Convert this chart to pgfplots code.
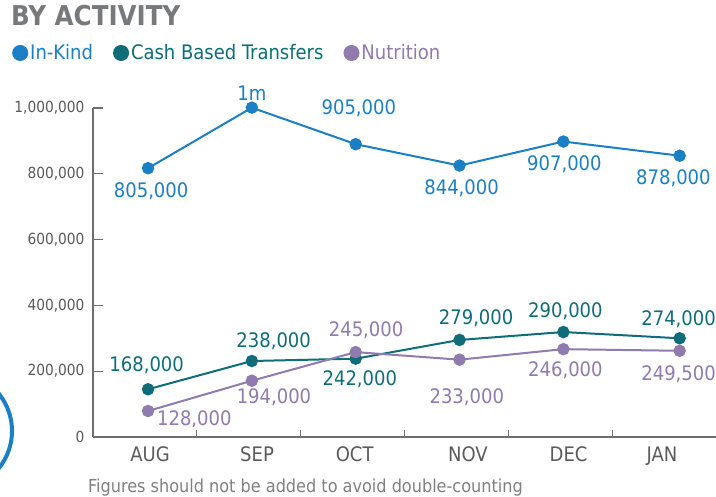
\documentclass[border=0pt]{standalone}
\usepackage{pgfplots}
\usepackage{pgfplotstable}
\pgfplotsset{compat=1.18}
\usepackage{fontspec}
\setmainfont{DejaVu Sans Condensed}
\definecolor{inkind}{HTML}{1B7FC5}
\definecolor{cbt}{HTML}{0E6D79}
\definecolor{nutri}{HTML}{8F7BAD}
\definecolor{titlegray}{HTML}{77797B}
\definecolor{tickgray}{HTML}{5A5A5A}
\definecolor{axisgray}{HTML}{6E6E6E}
\definecolor{notegray}{HTML}{808080}
\newcommand\labfont{\fontsize{20}{24}\selectfont}

\pgfplotstableread{
x y
0.03 817000
1.03 1001000
2.03 890000
3.03 825000
4.03 898000
5.15 855000
}\inkindtab
\pgfplotstableread{
x y
0.03 145000
1.03 231000
2.03 238000
3.03 295000
4.03 319000
5.15 300000
}\cbttab
\pgfplotstableread{
x y
0.03 79000
1.03 171000
2.03 258000
3.03 235000
4.03 267000
5.15 262000
}\nutritab
\pgfplotstableread{
x y label
0.06 745600 805,000
1.03 1045600 1m
2.06 997900 905,000
3.05 756800 844,000
4.04 827700 907,000
5.09 785100 878,000
}\inkindlab
\pgfplotstableread{
x y label
0.017 216700 168,000
1.24 291800 238,000
2.07 176300 242,000
3.19 359600 279,000
4.05 382000 290,000
5.14 358700 274,000
}\cbtlab
\pgfplotstableread{
x y label
0.476 53800 128,000
1.243 120700 194,000
2.13 323000 245,000
3.10 119500 233,000
4.05 202700 246,000
5.14 191500 249,500
}\nutrilab

\begin{document}
\begin{tikzpicture}
\useasboundingbox (0pt,0pt) rectangle (716pt,497pt);
\begin{axis}[
  at={(93pt,60pt)}, anchor=south west,
  scale only axis, width=623pt, height=329pt,
  xmin=-0.5, xmax=5.5, ymin=0, ymax=1000000,
  clip=false,
  axis lines*=left,
  axis line style={axisgray, line width=1.3pt},
  tick align=inside,
  major tick length=10pt, minor tick length=7pt,
  tick style={axisgray, line width=1.2pt},
  xtick={0.05,1.08,2.02,3.11,4.08,4.98},
  xticklabels={AUG,SEP,OCT,NOV,DEC,JAN},
  major x tick style={draw=none},
  minor xtick={0.5,1.5,2.5,3.5,4.5},
  ytick={0,200000,400000,600000,800000,1000000},
  scaled y ticks=false,
  /pgf/number format/assume math mode=true,
  yticklabel style={/pgf/number format/fixed, /pgf/number format/1000 sep={,},
     font=\fontsize{15.3}{18}\selectfont, text=tickgray, xshift=-5pt},
  xticklabel style={font=\fontsize{20}{23}\selectfont, text=tickgray, yshift=-6.5pt},
  legend columns=3,
  legend style={at={(-0.130,1.1672)}, anchor=west, draw=none, fill=none,
     inner sep=0pt, font=\fontsize{20}{23}\selectfont,
     nodes={inner sep=2pt},
     /tikz/every even column/.append style={column sep=18pt}},
]
\addplot[inkind, line width=2pt, mark=*, mark size=5.2pt, mark options={solid, fill=inkind, draw=inkind},
  legend image code/.code={\fill[inkind] (7pt,0pt) circle (7pt);}] table[x=x,y=y] {\inkindtab};
\addlegendentry{\textcolor{inkind}{In-Kind}}
\addplot[cbt, line width=2pt, mark=*, mark size=5.2pt, mark options={solid, fill=cbt, draw=cbt},
  legend image code/.code={\fill[cbt] (7pt,0pt) circle (7pt);}] table[x=x,y=y] {\cbttab};
\addlegendentry{\textcolor{cbt}{Cash Based Transfers}}
\addplot[nutri, line width=2pt, mark=*, mark size=5.2pt, mark options={solid, fill=nutri, draw=nutri},
  legend image code/.code={\fill[nutri] (7pt,0pt) circle (7pt);}] table[x=x,y=y] {\nutritab};
\addlegendentry{\textcolor{nutri}{Nutrition}}

\addplot[draw=none, mark=none, forget plot, nodes near coords, point meta=explicit symbolic,
  nodes near coords align={center},
  every node near coord/.append style={anchor=center, inner sep=0pt, text=inkind, font=\labfont}]
  table[x=x,y=y,meta=label] {\inkindlab};
\addplot[draw=none, mark=none, forget plot, nodes near coords, point meta=explicit symbolic,
  nodes near coords align={center},
  every node near coord/.append style={anchor=center, inner sep=0pt, text=cbt, font=\labfont}]
  table[x=x,y=y,meta=label] {\cbtlab};
\addplot[draw=none, mark=none, forget plot, nodes near coords, point meta=explicit symbolic,
  nodes near coords align={center},
  every node near coord/.append style={anchor=center, inner sep=0pt, text=nutri, font=\labfont}]
  table[x=x,y=y,meta=label] {\nutrilab};
\end{axis}
\node[anchor=base west, inner sep=0pt, font=\fontsize{27.3}{31}\selectfont\bfseries, text=titlegray] at (11pt,471pt) {BY ACTIVITY};
\node[anchor=base west, inner sep=0pt, font=\fontsize{17.9}{21}\selectfont, text=notegray] at (88pt,4.5pt) {Figures should not be added to avoid double-counting};
\draw[inkind, line width=4pt] (-47.3pt,66pt) circle (59.3pt);
\end{tikzpicture}
\end{document}
